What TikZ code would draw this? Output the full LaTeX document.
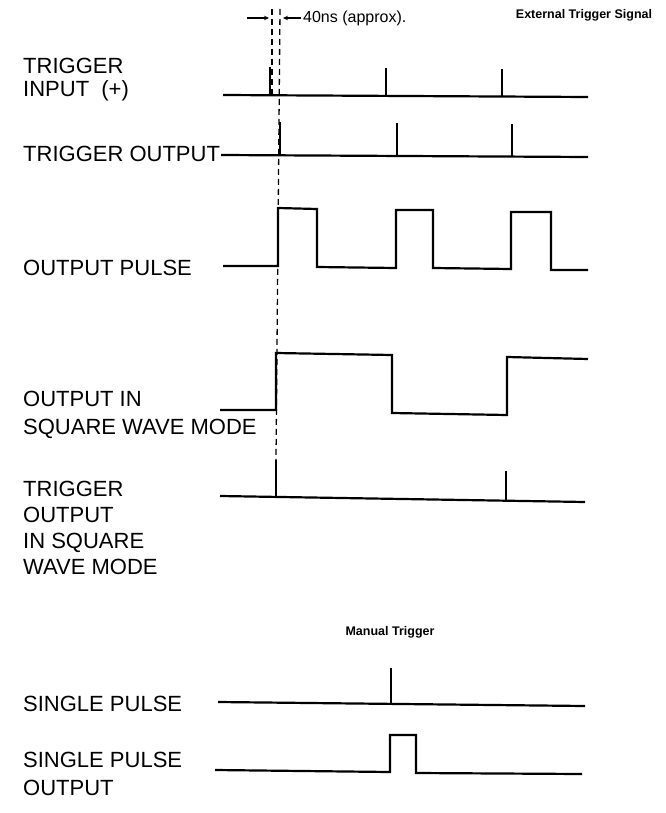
\documentclass[tikz,border=0pt]{standalone}
\usepackage{fontspec}
\setmainfont{Liberation Sans}
\newfontfamily\lblfamily{Liberation Sans}
\usetikzlibrary{arrows.meta}
\tikzset{
  wave/.style={line width=2.2pt, line join=miter, line cap=butt},
  dashline/.style={line width=1.3pt, dash pattern=on 6pt off 4pt},
  lbl/.style={anchor=base west, inner sep=0pt, font=\lblfamily\fontsize{22}{26}\selectfont},
  small/.style={inner sep=0pt, font=\lblfamily\bfseries\fontsize{12.5}{15}\selectfont},
  note/.style={inner sep=0pt, font=\lblfamily\fontsize{16}{19}\selectfont},
  dimarrow/.style={line width=1.2pt, -{Stealth[length=5pt,width=4.5pt]}}
}
\begin{document}
\begin{tikzpicture}[x=1pt,y=-1pt]
\useasboundingbox (0,0) rectangle (665,813);

% top annotations
\node[small, anchor=center] (ext) at (584,15) {External Trigger Signal};
\node[note, anchor=west] (ns) at (303,18) {40ns (approx).};
\coordinate (la) at (247,18);
\coordinate (lb) at (269,18);
\coordinate (ra) at (301,18);
\coordinate (rb) at (283,18);
\draw[dimarrow] (la) -- (lb);
\draw[dimarrow] (ra) -- (rb);

% dashed reference lines
\coordinate (d1a) at (272,9);
\coordinate (d1b) at (272,96);
\coordinate (d2a) at (280,9);
\coordinate (d2b) at (276,460);
\draw[dashline] (d1a) -- (d1b);
\draw[dashline] (d2a) -- (d2b);

% Row 1: trigger input
\node[lbl] (l1a) at (23,74) {TRIGGER};
\node[lbl] (l1b) at (23,97) {INPUT\ \ (+)};
\draw[wave] (223,95) -- (588,97);
\draw[wave] (270,95.3) -- (270,67);
\draw[wave] (386,96) -- (386,68);
\draw[wave] (502,96.6) -- (502,69);

% Row 2: trigger output
\node[lbl] (l2) at (23,162) {TRIGGER OUTPUT};
\coordinate (l2e) at (221,155);
\draw[wave] (l2e) -- (588,157);
\draw[wave] (280,155.3) -- (280,122);
\draw[wave] (397,156) -- (397,123);
\draw[wave] (512,156.6) -- (512,124);

% Row 3: output pulse
\node[lbl] (l3) at (23,275) {OUTPUT PULSE};
\draw[wave] (223,266) -- (278,266) -- (278,208) -- (317,209) -- (317,267) -- (396,268) -- (396,210) -- (433,210) -- (433,268) -- (511,269) -- (511,212) -- (551,212) -- (551,270) -- (588,270);

% Row 4: square wave
\node[lbl] (l4a) at (23,406) {OUTPUT IN};
\node[lbl] (l4b) at (23,434) {SQUARE WAVE MODE};
\draw[wave] (220,410) -- (276,410) -- (276,353) -- (392,355) -- (392,413) -- (507,415) -- (507,357) -- (588,359);

% Row 5: trigger output in square wave mode
\node[lbl] (l5a) at (23,496) {TRIGGER};
\node[lbl] (l5b) at (23,522) {OUTPUT};
\node[lbl] (l5c) at (23,548) {IN SQUARE};
\node[lbl] (l5d) at (23,574) {WAVE MODE};
\draw[wave] (220,496) -- (585,502);
\draw[wave] (276,497) -- (276,460);
\draw[wave] (506,500.8) -- (506,471);

% Manual trigger
\node[small, anchor=center] (man) at (390,632) {Manual Trigger};

% Row 6: single pulse
\node[lbl] (l6) at (23,711) {SINGLE PULSE};
\draw[wave] (218,702) -- (585,706);
\draw[wave] (391,704) -- (391,668);

% Row 7: single pulse output
\node[lbl] (l7a) at (23,767) {SINGLE PULSE};
\node[lbl] (l7b) at (23,795) {OUTPUT};
\draw[wave] (215,770) -- (390,772) -- (390,735) -- (416,735) -- (416,773) -- (582,774);
\end{tikzpicture}
\end{document}
